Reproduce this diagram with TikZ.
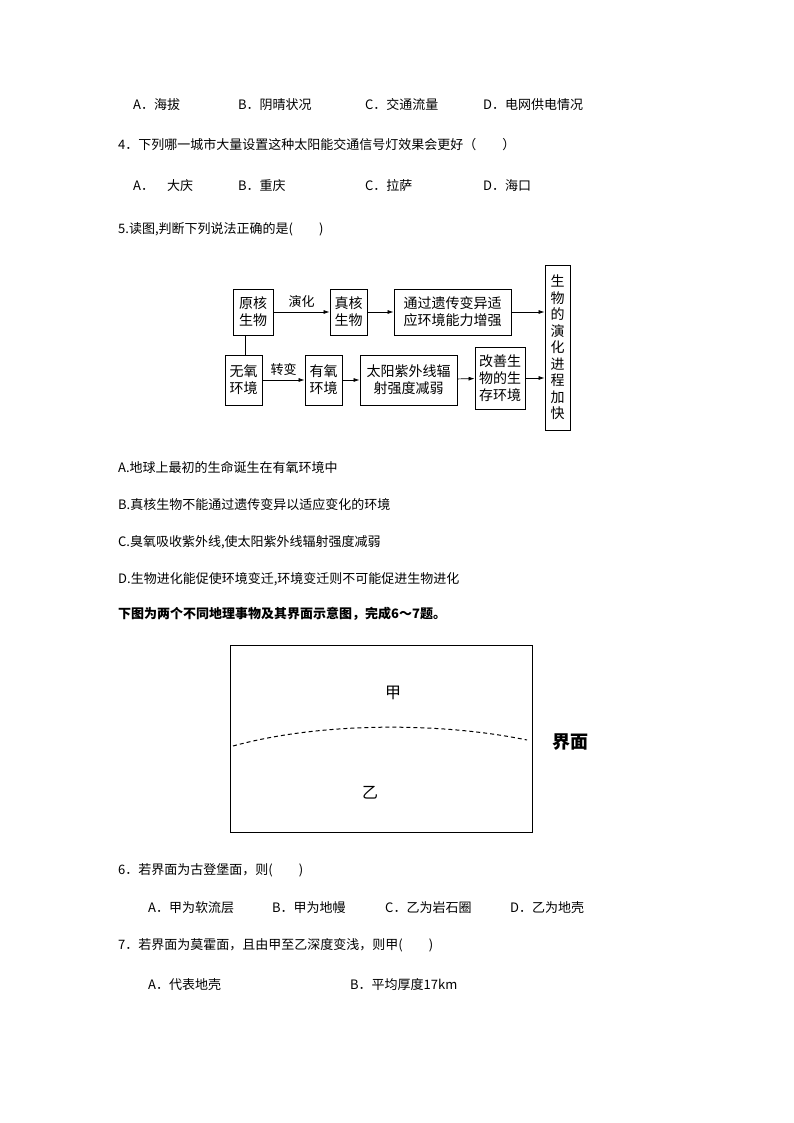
\documentclass[tikz,border=0pt]{standalone}
\usepackage{fontspec}
\setmainfont{Noto Sans CJK SC}
\usetikzlibrary{arrows.meta}
\begin{document}
\begin{tikzpicture}[x=1pt,y=-1pt,
  txt/.style={anchor=west,inner sep=0pt,font=\fontsize{13}{13}\selectfont},
  bx/.style={draw,line width=0.9pt,inner sep=0pt,align=center,font=\fontsize{14}{17}\selectfont},
  arr/.style={-{Latex[length=6pt,width=4pt]},line width=0.7pt}]
\useasboundingbox (0,0) rectangle (794,1123);
\fill[white] (0,0) rectangle (794,1123);
\node[txt] (l1a) at (133,105) {A．海拔};
\node[txt] (l1b) at (238,105) {B．阴晴状况};
\node[txt] (l1c) at (365,105) {C．交通流量};
\node[txt] (l1d) at (483,105) {D．电网供电情况};
\node[txt] (q4) at (118,145) {4．下列哪一城市大量设置这种太阳能交通信号灯效果会更好（　　）};
\node[txt] (l2a) at (133,186) {A．　大庆};
\node[txt] (l2b) at (238,186) {B．重庆};
\node[txt] (l2c) at (365,186) {C．拉萨};
\node[txt] (l2d) at (483,186) {D．海口};
\node[txt] (q5) at (118,229) {5.读图,判断下列说法正确的是(　　)};
% flow diagram
\node[bx,minimum width=40,minimum height=46] (yh) at (253,312) {原核\\生物};
\node[bx,minimum width=37,minimum height=46] (zh) at (348.5,312) {真核\\生物};
\node[bx,minimum width=117,minimum height=46] (tg) at (452.5,312) {通过遗传变异适\\应环境能力增强};
\node[bx,minimum width=25,minimum height=165,font=\fontsize{14}{16.5}\selectfont] (sw) at (557.5,347.5) {生\\物\\的\\演\\化\\进\\程\\加\\快};
\node[bx,minimum width=37,minimum height=50] (wy) at (243.5,380) {无氧\\环境};
\node[bx,minimum width=37,minimum height=50] (you) at (323.5,380) {有氧\\环境};
\node[bx,minimum width=97,minimum height=50] (ty) at (408.5,380) {太阳紫外线辐\\射强度减弱};
\node[bx,minimum width=50,minimum height=62] (gs) at (500,378) {改善生\\物的生\\存环境};
\draw[arr] (yh) -- node[above=1pt,font=\fontsize{13}{13}\selectfont]{演化} (zh);
\draw[arr] (zh) -- (tg);
\draw[arr] (tg) -- (tg -| sw.west);
\draw[line width=0.7pt] (yh.south -| 245,0) -- (wy.north -| 245,0);
\draw[arr] (wy) -- node[above=1pt,font=\fontsize{13}{13}\selectfont]{转变} (you);
\draw[arr] (you) -- (ty);
\draw[arr] (ty) -- (gs);
\draw[arr] (gs) -- (gs -| sw.west);
\node[txt] (oa) at (118,467) {A.地球上最初的生命诞生在有氧环境中};
\node[txt] (ob) at (118,505) {B.真核生物不能通过遗传变异以适应变化的环境};
\node[txt] (oc) at (118,542) {C.臭氧吸收紫外线,使太阳紫外线辐射强度减弱};
\node[txt] (od) at (118,579) {D.生物进化能促使环境变迁,环境变迁则不可能促进生物进化};
\node[txt,font=\fontsize{13}{13}\selectfont\bfseries] (intro) at (118,614) {下图为两个不同地理事物及其界面示意图，完成6～7题。};
% interface diagram
\draw[line width=1pt] (230,645) rectangle (532,832);
\draw[dashed,line width=1pt,dash pattern=on 4pt off 3pt] (233,746) .. controls (320,722) and (440,722) .. (527,740);
\node[inner sep=0pt,font=\fontsize{16}{16}\selectfont] (jia) at (393,693) {甲};
\node[inner sep=0pt,font=\fontsize{16}{16}\selectfont] (yi) at (370,793) {乙};
\node[inner sep=0pt,font=\fontsize{18}{18}\selectfont\bfseries] (jm) at (570,742) {界面};
\node[txt] (q6) at (118,870) {6．若界面为古登堡面，则(　　)};
\node[txt] (l6a) at (148,908) {A．甲为软流层};
\node[txt] (l6b) at (272,908) {B．甲为地幔};
\node[txt] (l6c) at (385,908) {C．乙为岩石圈};
\node[txt] (l6d) at (510,908) {D．乙为地壳};
\node[txt] (q7) at (118,945) {7．若界面为莫霍面，且由甲至乙深度变浅，则甲(　　)};
\node[txt] (l7a) at (148,985) {A．代表地壳};
\node[txt] (l7b) at (350,985) {B．平均厚度17km};
\end{tikzpicture}
\end{document}
